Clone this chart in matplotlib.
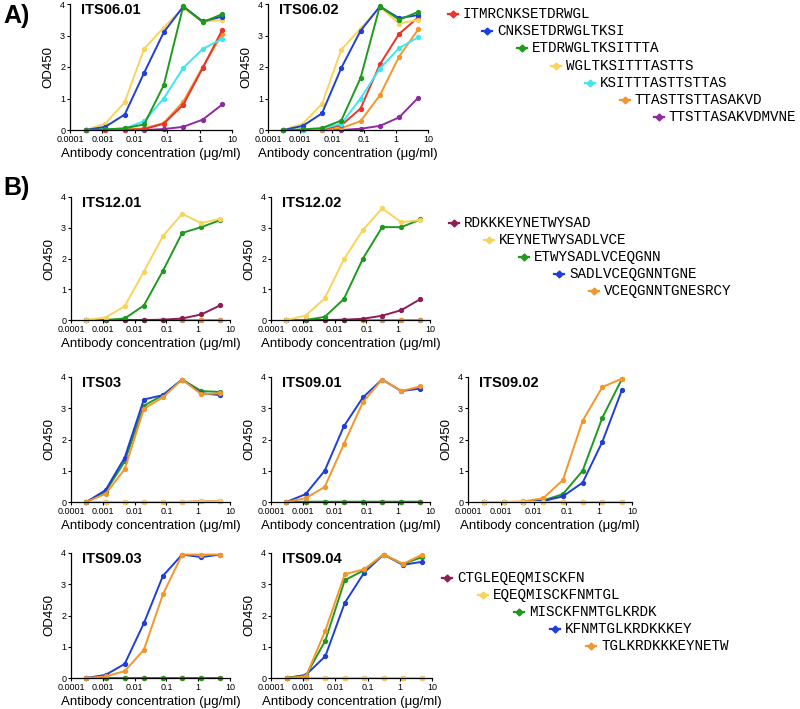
import numpy as np
import matplotlib
matplotlib.use("Agg")
import matplotlib.pyplot as plt
from matplotlib.lines import Line2D

plt.rcParams['font.family'] = ['Liberation Sans', 'DejaVu Sans']

# antibody concentrations (ug/ml), 4-fold dilutions
conc = [0.000305, 0.00122, 0.00488, 0.0195, 0.078, 0.3125, 1.25, 5.0]

# colours
RED = '#e8342a'
BLUE = '#1f3fd8'
GREEN = '#1e9a1e'
YELLOW = '#f8d45c'
CYAN = '#3fe6f0'
ORANGE = '#f5962b'
PURPLE = '#8f2aa0'
MAROON = '#8e1e56'

# ---- panel A peptides ----
peptides_a = ['ITMRCNKSETDRWGL', 'CNKSETDRWGLTKSI', 'ETDRWGLTKSITTTA', 'WGLTKSITTTASTTS',
              'KSITTTASTTSTTAS', 'TTASTTSTTASAKVD', 'TTSTTASAKVDMVNE']
colors_a = [RED, BLUE, GREEN, YELLOW, CYAN, ORANGE, PURPLE]

its0601 = {
    'ITMRCNKSETDRWGL': [0, 0, 0, 0.03, 0.2, 0.8, 1.97, 3.18],
    'CNKSETDRWGLTKSI': [0, 0.1, 0.49, 1.82, 3.1, 3.92, 3.45, 3.6],
    'ETDRWGLTKSITTTA': [0, 0.02, 0.05, 0.18, 1.42, 3.93, 3.42, 3.68],
    'WGLTKSITTTASTTS': [0, 0.2, 0.88, 2.58, 3.25, 3.88, 3.43, 3.5],
    'KSITTTASTTSTTAS': [0, 0.02, 0.05, 0.28, 1.0, 1.97, 2.57, 2.9],
    'TTASTTSTTASAKVD': [0, 0, 0.02, 0.05, 0.22, 0.9, 2.0, 3.05],
    'TTSTTASAKVDMVNE': [0, 0, 0, 0, 0.03, 0.1, 0.33, 0.81],
}
its0602 = {
    'ITMRCNKSETDRWGL': [0, 0, 0.02, 0.15, 0.68, 2.08, 3.05, 3.58],
    'CNKSETDRWGLTKSI': [0, 0.13, 0.53, 1.97, 3.15, 3.92, 3.55, 3.65],
    'ETDRWGLTKSITTTA': [0, 0.02, 0.06, 0.3, 1.65, 3.93, 3.5, 3.75],
    'WGLTKSITTTASTTS': [0, 0.2, 0.83, 2.55, 3.22, 3.9, 3.38, 3.5],
    'KSITTTASTTSTTAS': [0, 0, 0.04, 0.2, 1.0, 1.95, 2.6, 2.95],
    'TTASTTSTTASAKVD': [0, 0, 0.01, 0.06, 0.28, 1.1, 2.33, 3.2],
    'TTSTTASAKVDMVNE': [0, 0, 0, 0, 0.04, 0.13, 0.4, 1.03],
}

# ---- panel B, first peptide set ----
peptides_b1 = ['RDKKKEYNETWYSAD', 'KEYNETWYSADLVCE', 'ETWYSADLVCEQGNN', 'SADLVCEQGNNTGNE', 'VCEQGNNTGNESRCY']
colors_b1 = [MAROON, YELLOW, GREEN, BLUE, ORANGE]

its1201 = {
    'RDKKKEYNETWYSAD': [0, 0, 0, 0, 0.01, 0.05, 0.18, 0.48],
    'KEYNETWYSADLVCE': [0, 0.08, 0.45, 1.57, 2.73, 3.45, 3.15, 3.3],
    'ETWYSADLVCEQGNN': [0, 0, 0.05, 0.47, 1.6, 2.83, 3.02, 3.25],
    'SADLVCEQGNNTGNE': [0, 0, 0, 0, 0, 0, 0, 0],
    'VCEQGNNTGNESRCY': [0, 0, 0, 0, 0, 0, 0, 0],
}
its1202 = {
    'RDKKKEYNETWYSAD': [0, 0, 0, 0.01, 0.04, 0.14, 0.32, 0.68],
    'KEYNETWYSADLVCE': [0, 0.14, 0.7, 1.97, 2.93, 3.63, 3.18, 3.25],
    'ETWYSADLVCEQGNN': [0, 0, 0.1, 0.68, 2.0, 3.02, 3.02, 3.27],
    'SADLVCEQGNNTGNE': [0, 0, 0, 0, 0, 0, 0, 0],
    'VCEQGNNTGNESRCY': [0, 0, 0, 0, 0, 0, 0, 0],
}

# ---- panel B, second peptide set ----
peptides_b2 = ['CTGLEQEQMISCKFN', 'EQEQMISCKFNMTGL', 'MISCKFNMTGLKRDK', 'KFNMTGLKRDKKKEY', 'TGLKRDKKKEYNETW']
colors_b2 = [MAROON, YELLOW, GREEN, BLUE, ORANGE]

its03 = {
    'CTGLEQEQMISCKFN': [0, 0, 0, 0, 0, 0, 0.02, 0.02],
    'EQEQMISCKFNMTGL': [0, 0, 0, 0, 0, 0, 0.02, 0.02],
    'MISCKFNMTGLKRDK': [0, 0.33, 1.3, 3.08, 3.42, 3.92, 3.55, 3.52],
    'KFNMTGLKRDKKKEY': [0, 0.38, 1.42, 3.28, 3.42, 3.92, 3.48, 3.42],
    'TGLKRDKKKEYNETW': [0, 0.26, 1.05, 2.98, 3.35, 3.92, 3.45, 3.48],
}
its0901 = {
    'CTGLEQEQMISCKFN': [0, 0, 0, 0, 0, 0, 0, 0],
    'EQEQMISCKFNMTGL': [0, 0, 0, 0, 0, 0, 0, 0],
    'MISCKFNMTGLKRDK': [0, 0.01, 0.01, 0.01, 0.01, 0.01, 0.01, 0.01],
    'KFNMTGLKRDKKKEY': [0, 0.25, 1.0, 2.42, 3.35, 3.92, 3.55, 3.63],
    'TGLKRDKKKEYNETW': [0, 0.12, 0.48, 1.85, 3.2, 3.92, 3.55, 3.7],
}
its0902 = {
    'CTGLEQEQMISCKFN': [0, 0, 0, 0, 0, 0, 0, 0],
    'EQEQMISCKFNMTGL': [0, 0, 0, 0, 0, 0, 0, 0],
    'MISCKFNMTGLKRDK': [0, 0, 0, 0.05, 0.25, 1.0, 2.7, 3.95],
    'KFNMTGLKRDKKKEY': [0, 0, 0, 0.03, 0.18, 0.62, 1.93, 3.6],
    'TGLKRDKKKEYNETW': [0, 0, 0.02, 0.12, 0.7, 2.6, 3.68, 3.95],
}
its0903 = {
    'CTGLEQEQMISCKFN': [0, 0, 0, 0, 0, 0, 0, 0],
    'EQEQMISCKFNMTGL': [0, 0, 0, 0, 0, 0, 0, 0],
    'MISCKFNMTGLKRDK': [0, 0, 0, 0, 0, 0, 0, 0],
    'KFNMTGLKRDKKKEY': [0, 0.1, 0.45, 1.75, 3.27, 3.95, 3.87, 3.95],
    'TGLKRDKKKEYNETW': [0, 0.05, 0.22, 0.9, 2.68, 3.95, 3.95, 3.95],
}
its0904 = {
    'CTGLEQEQMISCKFN': [0, 0, 0, 0, 0, 0, 0, 0],
    'EQEQMISCKFNMTGL': [0, 0, 0, 0, 0, 0, 0, 0],
    'MISCKFNMTGLKRDK': [0, 0.08, 1.2, 3.13, 3.45, 3.95, 3.65, 3.87],
    'KFNMTGLKRDKKKEY': [0, 0.1, 0.7, 2.4, 3.37, 3.95, 3.62, 3.72],
    'TGLKRDKKKEYNETW': [0, 0.05, 1.52, 3.32, 3.48, 3.95, 3.65, 3.95],
}

W, H = 800, 709
fig = plt.figure(figsize=(W / 100, H / 100), dpi=100)


def px_axes(x0, y0, x1, y1):
    return fig.add_axes([x0 / W, 1 - y1 / H, (x1 - x0) / W, (y1 - y0) / H])


def draw_panel(box, title, data, peptides, colors, draw_order=None):
    ax = px_axes(*box)
    order = draw_order if draw_order is not None else range(len(peptides))
    for i in order:
        ax.plot(conc, data[peptides[i]], color=colors[i], lw=1.4,
                marker='o', ms=2.8, mec=colors[i], clip_on=False)
    ax.set_xscale('log')
    ax.set_xlim(0.0001, 10)
    ax.set_ylim(0, 4)
    ax.set_xticks([0.0001, 0.001, 0.01, 0.1, 1, 10])
    ax.set_xticklabels(['0.0001', '0.001', '0.01', '0.1', '1', '10'])
    ax.xaxis.set_minor_locator(matplotlib.ticker.NullLocator())
    ax.set_yticks([0, 1, 2, 3, 4])
    ax.tick_params(labelsize=6.5, length=2.5, width=0.8, pad=1)
    for s in ['top', 'right']:
        ax.spines[s].set_visible(False)
    for s in ['left', 'bottom']:
        ax.spines[s].set_linewidth(0.9)
    ax.set_ylabel('OD450', fontsize=9.5, labelpad=4)
    ax.set_xlabel('Antibody concentration (\u03bcg/ml)', fontsize=9.5, labelpad=3)
    ax.text(0.07, 0.955, title, transform=ax.transAxes, fontsize=10.5,
            fontweight='bold', ha='left', va='center')
    return ax


def draw_key(x0, y0, dx, dy, peptides, colors):
    for i, (pep, col) in enumerate(zip(peptides, colors)):
        x = x0 + dx * i
        y = y0 + dy * i
        fig.add_artist(Line2D([(x - 5) / W, (x + 5) / W], [1 - y / H, 1 - y / H],
                              transform=fig.transFigure, color=col, lw=1.6,
                              marker=None))
        fig.add_artist(Line2D([x / W], [1 - y / H], transform=fig.transFigure,
                              color=col, marker='D', ms=3.5, lw=0))
        fig.text((x + 10) / W, 1 - y / H, pep, fontsize=10.3,
                 family=['Liberation Mono', 'DejaVu Sans Mono'], ha='left', va='center')


# panel A
order_a = [6, 5, 0, 4, 3, 1, 2]
draw_panel((70, 4, 232, 130), 'ITS06.01', its0601, peptides_a, colors_a, order_a)
draw_panel((268, 4, 428, 130), 'ITS06.02', its0602, peptides_a, colors_a, order_a)
draw_key(453, 14, 34.3, 17.2, peptides_a, colors_a)

# panel B
draw_panel((71, 197, 230, 320), 'ITS12.01', its1201, peptides_b1, colors_b1, [3, 4, 0, 2, 1])
draw_panel((271, 197, 430, 320), 'ITS12.02', its1202, peptides_b1, colors_b1, [3, 4, 0, 2, 1])
draw_key(454, 223, 35, 17.1, peptides_b1, colors_b1)

draw_panel((71, 377, 230, 502), 'ITS03', its03, peptides_b2, colors_b2)
draw_panel((271, 377, 430, 502), 'ITS09.01', its0901, peptides_b2, colors_b2)
draw_panel((468, 377, 632, 502), 'ITS09.02', its0902, peptides_b2, colors_b2, [0, 2, 3, 4, 1])
draw_panel((71, 553, 230, 678), 'ITS09.03', its0903, peptides_b2, colors_b2)
draw_panel((271, 553, 432, 678), 'ITS09.04', its0904, peptides_b2, colors_b2, [0, 1, 3, 2, 4])
draw_key(447, 578, 36, 17, peptides_b2, colors_b2)

fig.text(3 / W, 1 - 16 / H, 'A)', fontsize=18, fontweight='bold', ha='left', va='center')
fig.text(3 / W, 1 - 188 / H, 'B)', fontsize=18, fontweight='bold', ha='left', va='center')

fig.savefig('out.png', dpi=100)
